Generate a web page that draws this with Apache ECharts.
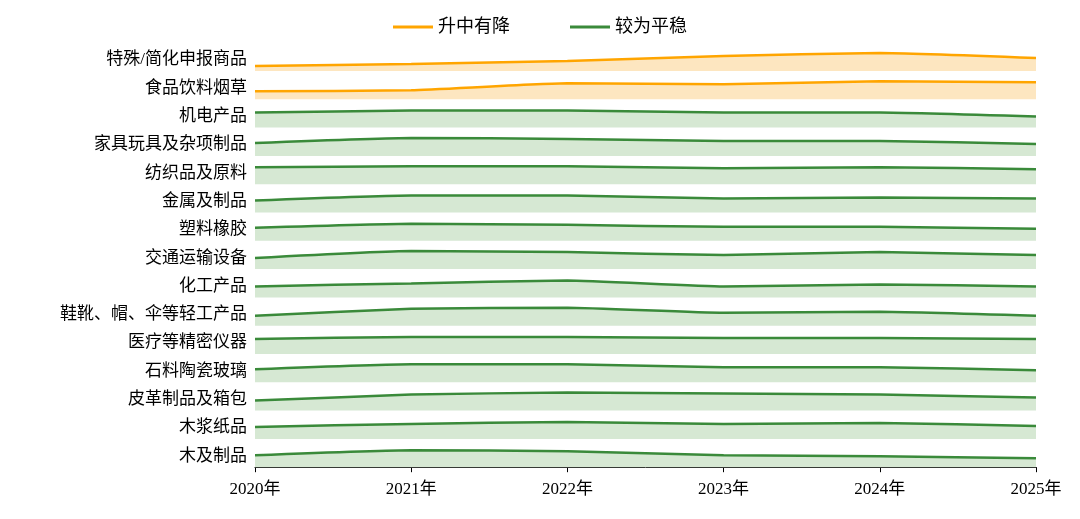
<!DOCTYPE html>
<html><head><meta charset="utf-8">
<script src="https://cdn.jsdelivr.net/npm/echarts@6/dist/echarts.min.js"></script>
<style>html,body{margin:0;padding:0;background:#fff}#c{width:1080px;height:519px}</style>
</head><body><div id="c"></div>
<script>
const years = [2020, 2021, 2022, 2023, 2024, 2025];
const categories = ['特殊/简化申报商品','食品饮料烟草','机电产品','家具玩具及杂项制品','纺织品及原料','金属及制品','塑料橡胶','交通运输设备','化工产品','鞋靴、帽、伞等轻工产品','医疗等精密仪器','石料陶瓷玻璃','皮革制品及箱包','木浆纸品','木及制品'];
const groups = ['升中有降','升中有降','较为平稳','较为平稳','较为平稳','较为平稳','较为平稳','较为平稳','较为平稳','较为平稳','较为平稳','较为平稳','较为平稳','较为平稳','较为平稳'];
const values = [
 [5,7,10,15,18,13],
 [8,9,16,15,18,17],
 [15,17,17,15,15,11],
 [13,18,17,15,15,12],
 [17,18,18,16,17,15],
 [12,17,17,14,15,14],
 [13,17,16,14,14,12],
 [11,18,17,14,17,14],
 [11,14,17,11,13,11],
 [10,17,18,13,14,10],
 [15,17,17,16,16,15],
 [13,18,18,15,15,12],
 [10,16,18,17,16,13],
 [12,15,17,15,16,13],
 [12,17,16,12,11,9]
];
const styles = {
 '升中有降': {line:'#FFA500', fill:'#FDE6C0'},
 '较为平稳': {line:'#3A8A3A', fill:'#D6E8D3'}
};
const font = '"Liberation Serif","Noto Sans CJK SC",serif';
const grids=[], xAxes=[], yAxes=[], series=[];
const n = categories.length;
categories.forEach((cat,i)=>{
  const base = 71 + i*28.3;
  grids.push({left:255, right:44, top:base-22, height:22});
  const last = i===n-1;
  xAxes.push({type:'value', gridIndex:i, min:2020, max:2025, interval:1,
    axisLine:{show:last, lineStyle:{color:'#000'}}, axisTick:{show:last, length:5, lineStyle:{color:'#000'}},
    splitLine:{show:false},
    axisLabel:{show:last, color:'#000', fontSize:17, fontFamily:font, margin:14, formatter:v=>v+'年'}});
  yAxes.push({type:'value', gridIndex:i, min:0, max:22, show:true,
    axisLine:{show:false}, axisTick:{show:false}, axisLabel:{show:false}, splitLine:{show:false},
    name:cat, nameLocation:'middle', nameRotate:0, nameGap:8,
    nameTextStyle:{align:'right', verticalAlign:'middle', color:'#000', fontSize:17, fontFamily:font}});
  const st = styles[groups[i]];
  series.push({type:'line', name:groups[i], xAxisIndex:i, yAxisIndex:i, smooth:0.15, symbol:'none',
    data: years.map((y,j)=>[y, values[i][j]]),
    lineStyle:{color:st.line, width:2.5}, itemStyle:{color:st.line},
    areaStyle:{color:st.fill, opacity:1}});
});
const chart = echarts.init(document.getElementById('c'));
chart.setOption({
  animation:false,
  legend:{top:13, left:'center', itemWidth:40, itemHeight:3, itemGap:60, icon:'rect',
    data:['升中有降','较为平稳'], textStyle:{fontSize:18, fontFamily:font, color:'#000'}},
  grid:grids, xAxis:xAxes, yAxis:yAxes, series
});
</script></body></html>
